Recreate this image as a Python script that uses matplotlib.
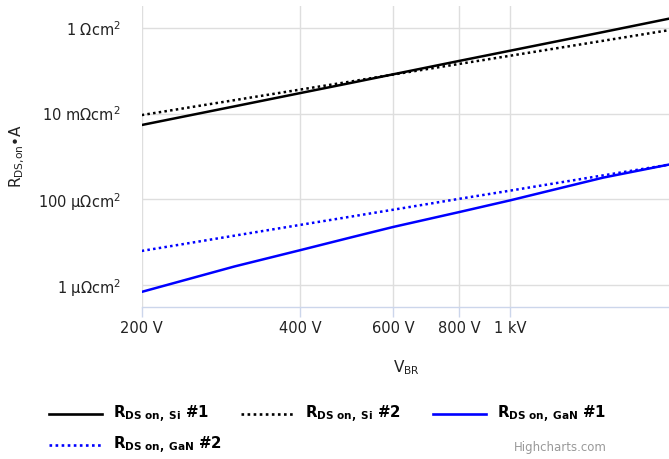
import matplotlib
matplotlib.use('Agg')
import matplotlib.pyplot as plt
from matplotlib.lines import Line2D

# breakdown voltage (V) and specific on-resistance (Ohm cm^2)
v_br = [200, 300, 400, 500, 600, 800, 1000, 1500, 2000]
si_1 = [5.4e-3, 1.47e-2, 3.0e-2, 5.2e-2, 8.2e-2, 0.168, 0.291, 0.79, 1.62]
si_2 = [9.2e-3, 2.05e-2, 3.62e-2, 5.6e-2, 8.1e-2, 0.143, 0.222, 0.495, 0.875]
gan_1 = [7.0e-7, 2.74e-6, 6.58e-6, 1.31e-5, 2.28e-5, 5.06e-5, 9.5e-5, 3.21e-4, 6.47e-4]
gan_2 = [6.3e-6, 1.43e-5, 2.55e-5, 3.99e-5, 5.75e-5, 1.03e-4, 1.60e-4, 3.62e-4, 6.44e-4]

x_ticks = [200, 400, 600, 800, 1000]
x_labels = ['200 V', '400 V', '600 V', '800 V', '1 kV']
y_ticks = [1, 1e-2, 1e-4, 1e-6]
y_labels = ['1 Ωcm$^2$', '10 mΩcm$^2$', '100 µΩcm$^2$', '1 µΩcm$^2$']

names = [r'$\mathbf{R}_{\mathbf{DS\ on,\ Si}}\ \mathbf{\#1}$',
         r'$\mathbf{R}_{\mathbf{DS\ on,\ Si}}\ \mathbf{\#2}$',
         r'$\mathbf{R}_{\mathbf{DS\ on,\ GaN}}\ \mathbf{\#1}$',
         r'$\mathbf{R}_{\mathbf{DS\ on,\ GaN}}\ \mathbf{\#2}$']
colors = ['#000000', '#000000', '#0000ff', '#0000ff']
dot = (0, (1, 1.3))
styles = ['-', dot, '-', dot]

W, H = 669, 459
fig = plt.figure(figsize=(W / 100, H / 100), dpi=100)
ax = fig.add_axes([141.7 / W, 1 - 306.7 / H, 527.3 / W, 300.5 / H])

for ys, c, ls in zip([si_1, si_2, gan_1, gan_2], colors, styles):
    ax.plot(v_br, ys, color=c, linestyle=ls, linewidth=1.8)

ax.set_xscale('log')
ax.set_yscale('log')
ax.set_xlim(200, 2000)
ax.set_ylim(10 ** -6.5, 10 ** 0.5)

ax.xaxis.set_minor_locator(matplotlib.ticker.NullLocator())
ax.yaxis.set_minor_locator(matplotlib.ticker.NullLocator())
ax.set_xticks(x_ticks)
ax.set_xticklabels(x_labels)
ax.set_yticks(y_ticks)
ax.set_yticklabels(y_labels)
ax.tick_params(axis='x', length=7.2, width=1, color='#ccd6eb', pad=3, labelsize=10.5, labelcolor='#222222')
ax.tick_params(axis='y', length=0, pad=15, labelsize=10.5, labelcolor='#222222')

ax.grid(True, color='#dedede', linewidth=1)
ax.set_axisbelow(True)
for s in ['top', 'right', 'left']:
    ax.spines[s].set_visible(False)
ax.spines['bottom'].set_color('#ccd6eb')
ax.spines['bottom'].set_linewidth(1)

fig.text(17 / W, 1 - 156 / H, r'R$_{\mathrm{DS{,}on}}$•A', rotation=90, ha='center', va='center',
         fontsize=11, color='#222222')
fig.text(406 / W, 1 - 368 / H, r'V$_{\mathrm{BR}}$', ha='center', va='center',
         fontsize=11, color='#222222')

# legend laid out like the original (3 items per row)
pos = [(49, 414), (241, 414), (433, 414), (49, 445)]
for (px, py), name, c, ls in zip(pos, names, colors, styles):
    fig.add_artist(Line2D([px / W, (px + 53) / W], [1 - py / H, 1 - py / H],
                          color=c, linestyle=ls, linewidth=1.9, transform=fig.transFigure))
    fig.text((px + 64) / W, 1 - py / H, name, ha='left', va='center', fontsize=10.8, color='#000000')

fig.text(607 / W, 1 - 447 / H, 'Highcharts.com', ha='right', va='center', fontsize=8.5, color='#999999')

fig.savefig('out.png', dpi=100)
